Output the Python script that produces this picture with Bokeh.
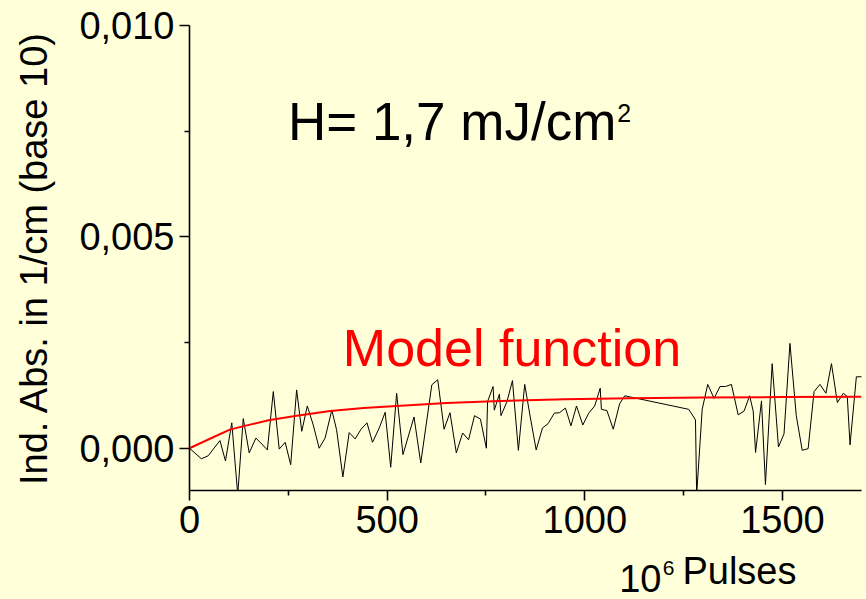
from bokeh.plotting import figure
from bokeh.models import Range1d, FixedTicker, Label
from bokeh.layouts import column
from bokeh.embed import file_html
from bokeh.resources import INLINE

# ---- data ----
pulses = [0, 30, 47, 77, 91, 107, 122, 136, 151, 168, 183, 197, 212, 227, 242, 256,
          271, 284, 298, 313, 328, 343, 360, 372, 388, 404, 419, 434, 449, 463, 480,
          495, 509, 524, 540, 568, 585, 613, 628, 644, 659, 675, 691, 706, 721, 736,
          751, 754, 768, 771, 784, 788, 803, 817, 832, 848, 862, 877, 893, 907, 923,
          936, 951, 965, 979, 995, 1010, 1025, 1039, 1042, 1056, 1072, 1088, 1101,
          1263, 1280, 1283, 1297, 1311, 1327, 1342, 1356, 1371, 1388, 1403, 1417,
          1426, 1432, 1447, 1457, 1474, 1490, 1504, 1519, 1535, 1550, 1565, 1580,
          1595, 1610, 1624, 1639, 1654, 1664, 1671, 1687, 1702]
absorb = [0.0, -0.00025, -0.00018, 0.00018, -0.0003, 0.0006, -0.0011, 0.0007, -0.00011,
          0.00024, 0.0001, -0.00004, 0.00134, -0.00002, 0.00014, -0.00039, 0.00138,
          0.0004, 0.001, 0.00055, 0.0, 0.00024, 0.0009, 0.00044, -0.00068, 0.00037,
          0.00022, 0.00045, 0.0006, 0.00014, 0.00048, 0.00085, -0.00045, 0.0013,
          -0.00015, 0.00074, -0.00035, 0.0015, 0.00162, 0.00045, 0.00084, -0.00011,
          0.00036, 0.0002, 0.00077, 0.00069, 0.0, 0.0011, 0.00146, 0.0009, 0.00128,
          0.00077, 0.0011, 0.0016, -0.00005, 0.00151, 0.00074, -0.00004, 0.00048,
          0.00058, 0.00083, 0.00084, 0.00095, 0.00053, 0.001, 0.00055, 0.00083, 0.001,
          0.00142, 0.00092, 0.00089, 0.00045, 0.00105, 0.00124,
          0.00092, 0.00067, -0.0011, 0.00092, 0.00151, 0.00118, 0.00146, 0.00146,
          0.00151, 0.00079, 0.00088, 0.00124, 0.00088, -0.0001, 0.00112, -0.00086,
          0.002, 0.00003, 0.00034, 0.00248, 0.00077, -0.00005, -0.00001, 0.00134,
          0.00151, 0.0013, 0.002, 0.00108, 0.0013, 0.00122, 0.00008, 0.00169, 0.00169]

model_x = [0, 60, 102, 145, 200, 271, 356, 440, 524, 650, 786, 950, 1115, 1300, 1500, 1700]
model_y = [0.0, 0.00026, 0.00044, 0.00054, 0.00066, 0.00077, 0.00088, 0.00095, 0.001,
           0.00107, 0.00112, 0.00116, 0.00118, 0.0012, 0.00121, 0.00122]

x_ticks = [0, 500, 1000, 1500]
x_tick_labels = ["0", "500", "1000", "1500"]
y_ticks = [0.0, 0.005, 0.01]
y_tick_labels = ["0,000", "0,005", "0,010"]

y_title = "Ind. Abs. in 1/cm (base 10)"
x_title_main = "10"
x_title_sup = "6"
x_title_rest = "Pulses"
fluence_main = "H= 1,7 mJ/cm"
fluence_sup = "2"
model_label = "Model function"

BG = "#FFFFDA"
FONT = "Liberation Sans"
W = 866
H_MAIN = 550
H_FOOT = 49

p = figure(width=W, height=H_MAIN, output_backend="svg", toolbar_location=None,
           x_range=Range1d(0, 1700), y_range=Range1d(-0.001, 0.010),
           min_border_left=189, min_border_right=5, min_border_top=25,
           min_border_bottom=60)
p.background_fill_color = BG
p.border_fill_color = BG
p.outline_line_color = None
p.grid.visible = False

p.xaxis.ticker = FixedTicker(ticks=x_ticks, minor_ticks=[250, 750, 1250])
p.xaxis.major_label_overrides = {t: l for t, l in zip(x_ticks, x_tick_labels)}
p.yaxis.ticker = FixedTicker(ticks=y_ticks, minor_ticks=[0.0025, 0.0075])
p.yaxis.major_label_overrides = {t: l for t, l in zip(y_ticks, y_tick_labels)}

for ax in (p.xaxis, p.yaxis):
    ax.axis_line_width = 1.6
    ax.axis_line_color = "black"
    ax.major_tick_line_width = 1.6
    ax.minor_tick_line_width = 1.6
    ax.major_tick_out = 10
    ax.major_tick_in = 0
    ax.minor_tick_out = 5
    ax.minor_tick_in = 0
    ax.major_label_text_font = FONT
    ax.major_label_text_font_size = "38px"
    ax.major_label_text_color = "black"
    ax.major_label_standoff = 5

p.yaxis.axis_label = y_title
p.yaxis.axis_label_text_font = FONT
p.yaxis.axis_label_text_font_size = "38px"
p.yaxis.axis_label_text_font_style = "normal"
p.yaxis.axis_label_text_color = "black"
p.yaxis.axis_label_standoff = 21

p.line(pulses, absorb, line_color="black", line_width=1)
p.line(model_x, model_y, line_color="#FF0000", line_width=2)

p.add_layout(Label(x=249, y=0.00702, text=fluence_main, text_font=FONT,
                   text_font_size="53px", text_color="black"))
p.add_layout(Label(x=1082, y=0.00771, text=fluence_sup, text_font=FONT,
                   text_font_size="25px", text_color="black"))
p.add_layout(Label(x=388, y=0.00169, text=model_label, text_font=FONT,
                   text_font_size="52px", text_color="#FF0000"))

# strip under the plot that carries the x-axis title (10^6 Pulses);
# it shares the x range of the plot so the title sits under the same scale
q = figure(width=W, height=H_FOOT, output_backend="svg", toolbar_location=None,
           x_range=p.x_range, y_range=Range1d(0, H_FOOT),
           x_axis_type=None, y_axis_type=None,
           min_border_left=189, min_border_right=5, min_border_top=0,
           min_border_bottom=0)
q.background_fill_color = BG
q.border_fill_color = BG
q.outline_line_color = None
q.grid.visible = False
q.add_layout(Label(x=1087, y=8, text=x_title_main, text_font=FONT,
                   text_font_size="38px", text_color="black"))
q.add_layout(Label(x=1197, y=25, text=x_title_sup, text_font=FONT,
                   text_font_size="21px", text_color="black"))
q.add_layout(Label(x=1247, y=8, text=x_title_rest, text_font=FONT,
                   text_font_size="38px", text_color="black"))

layout = column(p, q, spacing=0, styles={"background-color": BG})
open("out.html", "w").write(file_html(layout, INLINE))
